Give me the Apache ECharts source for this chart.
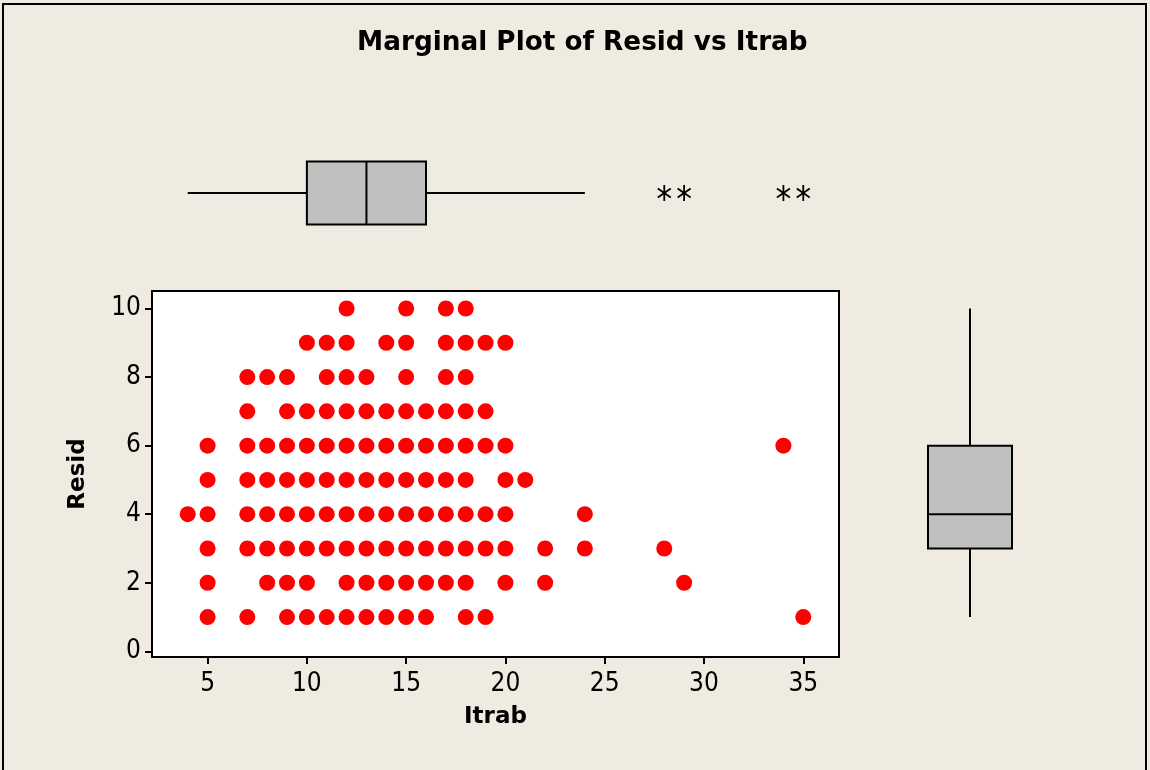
<!DOCTYPE html>
<html lang="en">
<head>
    <meta charset="UTF-8">
    <title>Marginal Plot of Resid vs Itrab</title>
    <script type="text/javascript" src="https://cdn.jsdelivr.net/npm/echarts@6/dist/echarts.min.js"></script>
    <style>
        html,body{margin:0;padding:0;background:#EFEBE1;}
        #main{width:1150px;height:770px;}
    </style>
</head>
<body>
<div id="main"></div>
<script type="text/javascript">
    // Itrab values for each Resid level
    var resid10 = [12, 15, 17, 18];
    var resid9 = [10, 11, 12, 14, 15, 17, 18, 19, 20];
    var resid8 = [7, 8, 9, 11, 12, 13, 15, 17, 18];
    var resid7 = [7, 9, 10, 11, 12, 13, 14, 15, 16, 17, 18, 19];
    var resid6 = [5, 7, 8, 9, 10, 11, 12, 13, 14, 15, 16, 17, 18, 19, 20, 34];
    var resid5 = [5, 7, 8, 9, 10, 11, 12, 13, 14, 15, 16, 17, 18, 20, 21];
    var resid4 = [4, 5, 7, 8, 9, 10, 11, 12, 13, 14, 15, 16, 17, 18, 19, 20, 24];
    var resid3 = [5, 7, 8, 9, 10, 11, 12, 13, 14, 15, 16, 17, 18, 19, 20, 22, 24, 28];
    var resid2 = [5, 8, 9, 10, 12, 13, 14, 15, 16, 17, 18, 20, 22, 29];
    var resid1 = [5, 7, 9, 10, 11, 12, 13, 14, 15, 16, 18, 19, 35];

    // box plot stats: min whisker, Q1, median, Q3, max whisker
    var itrabBox = [4, 10, 13, 16, 24];
    var itrabOutliers = [28, 29, 34, 35];
    var residBox = [1, 3, 4, 6, 10];

    var itrabTicks = [5, 10, 15, 20, 25, 30, 35];
    var residTicks = [0, 2, 4, 6, 8, 10];

    var levels = [
        [10, resid10], [9, resid9], [8, resid8], [7, resid7], [6, resid6],
        [5, resid5], [4, resid4], [3, resid3], [2, resid2], [1, resid1]
    ];
    var points = [];
    for (var i = 0; i < levels.length; i++) {
        for (var j = 0; j < levels[i][1].length; j++) {
            points.push([levels[i][1][j], levels[i][0]]);
        }
    }

    var font = "'DejaVu Sans Condensed', 'DejaVu Sans', sans-serif";
    var boldFont = "'DejaVu Sans', sans-serif";
    var xMin = 2.2, xMax = 36.8;
    var yMin = -0.165, yMax = 10.51;
    var lineStyle = {stroke: '#000', lineWidth: 2};

    function renderHBox(params, api) {
        var h = 31.5;
        var a = api.coord([api.value(0), 0.5]);
        var q1 = api.coord([api.value(1), 0.5]);
        var md = api.coord([api.value(2), 0.5]);
        var q3 = api.coord([api.value(3), 0.5]);
        var b = api.coord([api.value(4), 0.5]);
        return {
            type: 'group',
            children: [
                {type: 'line', shape: {x1: a[0], y1: a[1], x2: q1[0], y2: q1[1]}, style: lineStyle},
                {type: 'line', shape: {x1: q3[0], y1: q3[1], x2: b[0], y2: b[1]}, style: lineStyle},
                {type: 'rect', shape: {x: q1[0], y: q1[1] - h, width: q3[0] - q1[0], height: 2 * h},
                    style: {fill: '#C0C0C0', stroke: '#000', lineWidth: 2}},
                {type: 'line', shape: {x1: md[0], y1: md[1] - h, x2: md[0], y2: md[1] + h}, style: lineStyle}
            ]
        };
    }

    function renderVBox(params, api) {
        var w = 42;
        var a = api.coord([0.5, api.value(0)]);
        var q1 = api.coord([0.5, api.value(1)]);
        var md = api.coord([0.5, api.value(2)]);
        var q3 = api.coord([0.5, api.value(3)]);
        var b = api.coord([0.5, api.value(4)]);
        return {
            type: 'group',
            children: [
                {type: 'line', shape: {x1: a[0], y1: a[1], x2: q1[0], y2: q1[1]}, style: lineStyle},
                {type: 'line', shape: {x1: q3[0], y1: q3[1], x2: b[0], y2: b[1]}, style: lineStyle},
                {type: 'rect', shape: {x: q3[0] - w, y: q3[1], width: 2 * w, height: q1[1] - q3[1]},
                    style: {fill: '#C0C0C0', stroke: '#000', lineWidth: 2}},
                {type: 'line', shape: {x1: md[0] - w, y1: md[1], x2: md[0] + w, y2: md[1]}, style: lineStyle}
            ]
        };
    }

    // asterisk marker for outliers
    function renderStar(params, api) {
        var p = api.coord([api.value(0), 0.5]);
        var r = 8, dx = 6.5, dy = 4.5;
        var st = {stroke: '#000', lineWidth: 1.8};
        return {
            type: 'group',
            children: [
                {type: 'line', shape: {x1: p[0], y1: p[1] - r, x2: p[0], y2: p[1] + r}, style: st},
                {type: 'line', shape: {x1: p[0] - dx, y1: p[1] - dy, x2: p[0] + dx, y2: p[1] + dy}, style: st},
                {type: 'line', shape: {x1: p[0] - dx, y1: p[1] + dy, x2: p[0] + dx, y2: p[1] - dy}, style: st}
            ]
        };
    }

    var myChart = echarts.init(document.getElementById('main'));
    var option = {
        backgroundColor: '#EFEBE1',
        animation: false,
        title: {
            text: 'Marginal Plot of Resid vs Itrab',
            left: 352,
            top: 25,
            textStyle: {fontFamily: boldFont, fontWeight: 'bold', fontSize: 26.3, color: '#000'}
        },
        graphic: [{
            type: 'rect',
            shape: {x: 3, y: 4, width: 1143, height: 800},
            style: {fill: 'none', stroke: '#000', lineWidth: 2},
            silent: true
        }],
        grid: [
            {left: 152, top: 291, width: 687, height: 366, show: true, backgroundColor: '#fff', borderColor: '#000', borderWidth: 2},
            {left: 152, top: 150, width: 687, height: 86},
            {left: 900, top: 291, width: 140, height: 366}
        ],
        xAxis: [{
            gridIndex: 0, type: 'value', min: xMin, max: xMax,
            name: 'Itrab', nameLocation: 'middle', nameGap: 49,
            nameTextStyle: {fontFamily: boldFont, fontWeight: 'bold', fontSize: 23, color: '#000'},
            axisLine: {show: true, onZero: false, lineStyle: {color: '#000', width: 2}},
            axisTick: {show: true, customValues: itrabTicks, length: 7, lineStyle: {color: '#000', width: 2}},
            axisLabel: {customValues: itrabTicks, fontFamily: font, fontSize: 26, color: '#000', margin: 14},
            splitLine: {show: false}
        }, {
            gridIndex: 1, type: 'value', min: xMin, max: xMax, show: false
        }, {
            gridIndex: 2, type: 'value', min: 0, max: 1, show: false
        }],
        yAxis: [{
            gridIndex: 0, type: 'value', min: yMin, max: yMax,
            name: 'Resid', nameLocation: 'middle', nameGap: 62,
            nameTextStyle: {fontFamily: boldFont, fontWeight: 'bold', fontSize: 23, color: '#000'},
            axisLine: {show: true, onZero: false, lineStyle: {color: '#000', width: 2}},
            axisTick: {show: true, customValues: residTicks, length: 7, lineStyle: {color: '#000', width: 2}},
            axisLabel: {customValues: residTicks, fontFamily: font, fontSize: 26, color: '#000', margin: 11},
            splitLine: {show: false}
        }, {
            gridIndex: 1, type: 'value', min: 0, max: 1, show: false
        }, {
            gridIndex: 2, type: 'value', min: yMin, max: yMax, show: false
        }],
        series: [{
            name: 'Resid vs Itrab',
            type: 'scatter',
            xAxisIndex: 0, yAxisIndex: 0,
            symbolSize: 16,
            itemStyle: {color: '#FF0000', opacity: 1},
            data: points
        }, {
            type: 'custom',
            xAxisIndex: 1, yAxisIndex: 1,
            renderItem: renderHBox,
            clip: false,
            data: [itrabBox]
        }, {
            type: 'custom',
            xAxisIndex: 1, yAxisIndex: 1,
            renderItem: renderStar,
            clip: false,
            data: itrabOutliers.map(function (v) { return [v]; })
        }, {
            type: 'custom',
            xAxisIndex: 2, yAxisIndex: 2,
            renderItem: renderVBox,
            clip: false,
            data: [residBox]
        }]
    };
    myChart.setOption(option);
</script>
</body>
</html>
